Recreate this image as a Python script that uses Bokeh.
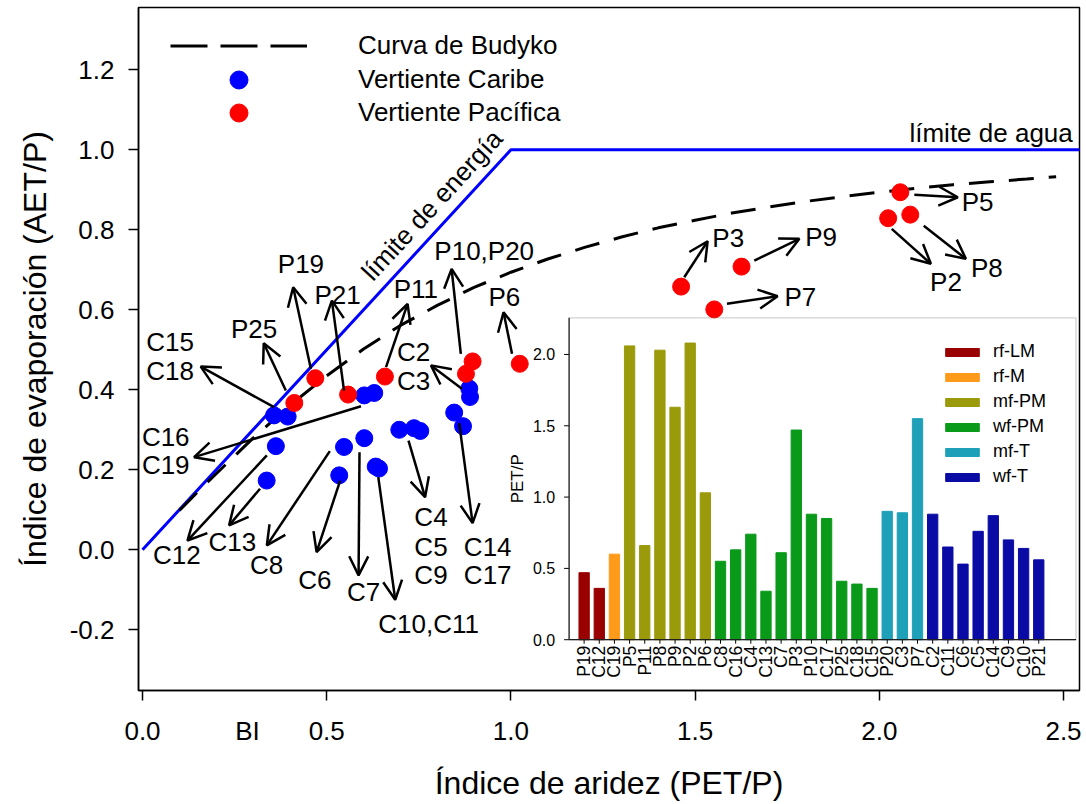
import math
from bokeh.plotting import figure
from bokeh.models import (ColumnDataSource, Range1d, FixedTicker, NumeralTickFormatter,
                          Arrow, OpenHead, Legend, LegendItem, BoxAnnotation, LinearAxis)
from bokeh.core.properties import value
from bokeh.embed import file_html
from bokeh.resources import INLINE

FONT = "Liberation Sans"
NAN = float("nan")

# ---------------- data: main scatter ----------------
caribe_names = ["C15", "C18", "C19", "C16", "C12", "C13", "C8", "C6", "C7",
                "C10", "C11", "C9", "C4", "C5", "C17", "C14", "C2", "C3"]
caribe_x = [0.357, 0.394, 0.602, 0.629, 0.362, 0.337, 0.547, 0.534, 0.602,
            0.633, 0.642, 0.697, 0.737, 0.754, 0.846, 0.870, 0.887, 0.889]
caribe_y = [0.336, 0.333, 0.386, 0.392, 0.259, 0.173, 0.257, 0.186, 0.279,
            0.208, 0.203, 0.300, 0.304, 0.297, 0.343, 0.309, 0.403, 0.382]

pacifica_names = ["P25", "P19", "P21", "P11", "P10", "P20", "P6", "P3", "P9",
                  "P7", "P5", "P8", "P2"]
pacifica_x = [0.412, 0.469, 0.558, 0.658, 0.878, 0.896, 1.024, 1.462, 1.626,
              1.552, 2.057, 2.024, 2.084]
pacifica_y = [0.367, 0.429, 0.388, 0.433, 0.440, 0.471, 0.465, 0.658, 0.708,
              0.601, 0.894, 0.829, 0.838]

# Budyko curve
budyko_x = [0.10, 0.15, 0.20, 0.30, 0.40, 0.50, 0.60, 0.70, 0.80, 0.90, 1.00,
            1.10, 1.20, 1.30, 1.40, 1.50, 1.60, 1.70, 1.80, 1.90, 2.00, 2.10,
            2.20, 2.30, 2.40, 2.48]
budyko_y = [0.098, 0.145, 0.190, 0.279, 0.361, 0.435, 0.502, 0.561, 0.611,
            0.656, 0.694, 0.727, 0.756, 0.782, 0.805, 0.824, 0.842, 0.857,
            0.871, 0.883, 0.894, 0.904, 0.913, 0.920, 0.927, 0.933]

# energy / water limits
limit_x = [0.0, 1.0, 2.6]
limit_y = [0.0, 1.0, 1.0]

# point labels
lab_text = ["P19", "P21", "P25", "P11", "P10,P20", "P6", "C2", "C3", "C15", "C18",
            "C16", "C19", "C12", "C13", "C8", "C6", "C7", "C10,C11", "C4", "C5",
            "C9", "C14", "C17", "P3", "P9", "P7", "P5", "P2", "P8"]
lab_x = [0.430, 0.5295, 0.303, 0.742, 0.9275, 0.982, 0.736, 0.736, 0.075, 0.075,
         0.063, 0.063, 0.093, 0.244, 0.337, 0.468, 0.600, 0.7765, 0.783, 0.783,
         0.783, 0.937, 0.937, 1.590, 1.842, 1.7855, 2.267, 2.181, 2.292]
lab_y = [0.715, 0.638, 0.5525, 0.6525, 0.748, 0.6315, 0.494, 0.423, 0.519, 0.448,
         0.283, 0.213, -0.014, 0.019, -0.039, -0.075, -0.106, -0.185, 0.0815, 0.008,
         -0.064, 0.008, -0.064, 0.780, 0.783, 0.6315, 0.869, 0.669, 0.705]

# arrows: from point group to label
arrow_x0 = [0.357, 0.389, 0.457, 0.547, 0.661, 0.864, 1.003, 0.867, 0.593, 0.3375,
            0.319, 0.5085, 0.5365, 0.589, 0.640, 0.722, 0.8596, 1.4705, 1.6606,
            1.5865, 2.095, 2.0337, 2.1206]
arrow_y0 = [0.3565, 0.398, 0.4525, 0.398, 0.4565, 0.490, 0.490, 0.4025, 0.359, 0.236,
            0.1525, 0.2465, 0.173, 0.244, 0.1815, 0.273, 0.3165, 0.6815, 0.723,
            0.615, 0.8875, 0.8025, 0.810]
arrow_x1 = [0.158, 0.329, 0.409, 0.514, 0.7195, 0.839, 0.980, 0.783, 0.140, 0.122,
            0.235, 0.3375, 0.4725, 0.5865, 0.686, 0.767, 0.896, 1.534, 1.783,
            1.724, 2.213, 2.140, 2.235]
arrow_y1 = [0.458, 0.5165, 0.6565, 0.623, 0.615, 0.7025, 0.594, 0.461, 0.2315, 0.023,
            0.061, 0.011, -0.006, -0.064, -0.125, 0.1315, 0.0665, 0.7715, 0.7775,
            0.634, 0.8815, 0.715, 0.7275]

x_ticks = [0.0, 0.5, 1.0, 1.5, 2.0, 2.5]
y_ticks = [-0.2, 0.0, 0.2, 0.4, 0.6, 0.8, 1.0, 1.2]
bi_tick = [0.285]
bi_label = ["BI"]

# ---------------- data: inset bar chart ----------------
bar_cats = ["P19", "C12", "C19", "P5", "P11", "P8", "P9", "P2", "P6", "C8", "C16",
            "C4", "C13", "C7", "P3", "P10", "C17", "P25", "C18", "C15", "P20", "C3",
            "P7", "C2", "C11", "C6", "C5", "C14", "C9", "C10", "P21"]
bar_vals = [0.47, 0.36, 0.60, 2.06, 0.66, 2.03, 1.63, 2.08, 1.03, 0.55, 0.63,
            0.74, 0.34, 0.61, 1.47, 0.88, 0.85, 0.41, 0.39, 0.36, 0.90, 0.89,
            1.55, 0.88, 0.65, 0.53, 0.76, 0.87, 0.70, 0.64, 0.56]
bar_groups = ["rf-LM", "rf-LM", "rf-M", "mf-PM", "mf-PM", "mf-PM", "mf-PM", "mf-PM",
              "mf-PM", "wf-PM", "wf-PM", "wf-PM", "wf-PM", "wf-PM", "wf-PM", "wf-PM",
              "wf-PM", "wf-PM", "wf-PM", "wf-PM", "mf-T", "mf-T", "mf-T", "wf-T",
              "wf-T", "wf-T", "wf-T", "wf-T", "wf-T", "wf-T", "wf-T"]
group_names = ["rf-LM", "rf-M", "mf-PM", "wf-PM", "mf-T", "wf-T"]
inset_ticks = [0.0, 0.5, 1.0, 1.5, 2.0]

# ---------------- styles ----------------
group_colors = {"rf-LM": "#990000", "rf-M": "#ff9a1a", "mf-PM": "#9a9a0a",
                "wf-PM": "#0a9a1a", "mf-T": "#1ea0b8", "wf-T": "#0a0aa5"}
BLUE = "#0000ff"
RED = "#ff0000"

p = figure(width=1086, height=804,
           x_range=Range1d(-0.0109, 2.5434), y_range=Range1d(-0.352, 1.356),
           output_backend="svg", toolbar_location=None,
           min_border_left=138, min_border_right=7, min_border_top=7,
           min_border_bottom=114)
p.xgrid.visible = False
p.ygrid.visible = False
p.outline_line_color = "black"
p.outline_line_width = 1.5
p.background_fill_color = "white"
p.border_fill_color = "white"

# x axis A: line + tick marks only (next to the frame)
xa = p.xaxis[0]
xa.ticker = FixedTicker(ticks=x_ticks)
xa.axis_line_color = "black"
xa.axis_line_width = 1.5
xa.major_tick_line_color = "black"
xa.major_tick_line_width = 1.5
xa.major_tick_out = 10
xa.major_tick_in = 0
xa.minor_tick_line_color = None
xa.major_label_text_font_size = "0px"
xa.major_label_standoff = 0
xa.major_label_overrides = {t: "" for t in x_ticks}

# x axis B: tick labels (incl. "BI") + title, below axis A
xb = LinearAxis(ticker=FixedTicker(ticks=x_ticks + bi_tick),
                formatter=NumeralTickFormatter(format="0.0"),
                major_label_overrides=dict(zip(bi_tick, bi_label)),
                axis_line_color=None, major_tick_line_color=None,
                minor_tick_line_color=None, major_tick_out=0, major_tick_in=0,
                major_label_standoff=15, major_label_text_font=FONT,
                major_label_text_font_size="26px", major_label_text_color="black",
                axis_label="Índice de aridez (PET/P)", axis_label_standoff=16,
                axis_label_text_font=FONT, axis_label_text_font_size="32px",
                axis_label_text_font_style="normal", axis_label_text_color="black")
p.add_layout(xb, "below")

ya = p.yaxis[0]
ya.ticker = FixedTicker(ticks=y_ticks)
ya.formatter = NumeralTickFormatter(format="0.0")
ya.axis_line_color = "black"
ya.axis_line_width = 1.5
ya.major_tick_line_color = "black"
ya.major_tick_line_width = 1.5
ya.major_tick_out = 10
ya.major_tick_in = 0
ya.minor_tick_line_color = None
ya.major_label_text_font = FONT
ya.major_label_text_font_size = "26px"
ya.major_label_text_color = "black"
ya.major_label_standoff = 14
ya.axis_label = "Índice de evaporación (AET/P)"
ya.axis_label_standoff = 14
ya.axis_label_text_font = FONT
ya.axis_label_text_font_size = "32px"
ya.axis_label_text_font_style = "normal"
ya.axis_label_text_color = "black"

# limits
p.line(limit_x, limit_y, line_color=BLUE, line_width=3)
p.text(x=[0.7855], y=[0.862], text=["límite de energía"], angle=math.atan2(400, 368.3),
       text_font=value(FONT), text_font_size=value("26px"), text_align="center",
       text_baseline="middle", text_color="black")
p.text(x=[2.3035], y=[1.041], text=["límite de agua"],
       text_font=value(FONT), text_font_size=value("26px"), text_align="center",
       text_baseline="middle", text_color="black")

# Budyko curve
r_bud = p.line(budyko_x, budyko_y, line_color="black", line_width=3, line_dash="25 15")
legend_budyko = p.line(x=[NAN, NAN], y=[NAN, NAN], line_color="black", line_width=3,
                       line_dash="37 13")

# arrows
asrc = ColumnDataSource(dict(x0=arrow_x0, y0=arrow_y0, x1=arrow_x1, y1=arrow_y1))
p.add_layout(Arrow(source=asrc, x_start="x0", y_start="y0", x_end="x1", y_end="y1",
                   line_color="black", line_width=2.5,
                   end=OpenHead(size=19, line_width=2.5, line_color="black")))

# points
r_car = p.scatter(caribe_x, caribe_y, size=17, fill_color=BLUE, line_color=BLUE)
r_pac = p.scatter(pacifica_x, pacifica_y, size=17, fill_color=RED, line_color=RED)

# labels
lsrc = ColumnDataSource(dict(x=lab_x, y=lab_y, t=lab_text))
p.text(x="x", y="y", text="t", source=lsrc, text_font=value(FONT),
       text_font_size=value("26px"), text_align="center", text_baseline="middle",
       text_color="black")

# main legend: one legend per row (row pitch 33 px, legend dot 18 px)
legend_rows = [("Curva de Budyko", legend_budyko, 622.5),
               ("Vertiente Caribe", r_car, 588.5),
               ("Vertiente Pacífica", r_pac, 555.5)]
for lab, rend, yoff in legend_rows:
    p.add_layout(Legend(items=[LegendItem(label=lab, renderers=[rend])],
                        location=(32, yoff), glyph_width=137, glyph_height=45,
                        label_standoff=51, padding=0, margin=0, border_line_alpha=0,
                        background_fill_alpha=0, label_text_font=FONT,
                        label_text_font_size="26px", label_text_color="black",
                        label_height=45))

# ---------------- inset ----------------
ix0, ix1 = -0.99, 32.46
iy0, iy1 = 0.0, 2.257
inset_x = Range1d(ix0, ix1)
inset_y = Range1d(iy0, iy1)
tx0, tx1, ty0, ty1 = 1.158, 2.534, -0.225, 0.58
sub = p.subplot(x_source=inset_x, y_source=inset_y,
                x_target=Range1d(tx0, tx1), y_target=Range1d(ty0, ty1))

p.add_layout(BoxAnnotation(left=tx0, right=tx1, bottom=ty0, top=ty1, fill_alpha=0,
                           line_color="#6a6a6a", line_width=1.3))

idx = list(range(len(bar_cats)))
bsrc = ColumnDataSource(dict(x=idx, top=bar_vals, cat=bar_cats, grp=bar_groups,
                             color=[group_colors[g] for g in bar_groups]))
r_bars = sub.vbar(x="x", top="top", width=0.68, bottom=0, source=bsrc,
                  fill_color="color", line_color="color")

# inset axes
sub.segment(x0=[ix0], y0=[0], x1=[ix1], y1=[0], line_color="black", line_width=1.2)
sub.segment(x0=[ix0], y0=[0], x1=[ix0], y1=[iy1], line_color="black", line_width=1.2)
sub.segment(x0=[ix0 - 0.33] * len(inset_ticks), y0=inset_ticks,
            x1=[ix0] * len(inset_ticks), y1=inset_ticks, line_color="black", line_width=1)
sub.segment(x0=idx, y0=[0] * len(idx), x1=idx, y1=[-0.028] * len(idx),
            line_color="black", line_width=1)
sub.text(x=[ix0] * len(inset_ticks), y=inset_ticks,
         text=["%.1f" % t for t in inset_ticks], x_offset=-14,
         text_font=value(FONT), text_font_size=value("16px"), text_align="right",
         text_baseline="middle", text_color="black")
sub.text(x="x", y=0, text="cat", source=bsrc, angle=math.pi / 2, y_offset=6,
         text_font=value(FONT), text_font_size=value("17.5px"), text_align="right",
         text_baseline="middle", text_color="black")
sub.text(x=[ix0], y=[(iy0 + iy1) / 2], text=["PET/P"], x_offset=-52, angle=math.pi / 2,
         text_font=value(FONT), text_font_size=value("17px"), text_align="center",
         text_baseline="middle", text_color="black")

first_idx = {g: bar_groups.index(g) for g in group_names}
legend2 = Legend(items=[LegendItem(label=g, renderers=[r_bars], index=first_idx[g])
                        for g in group_names],
                 location=(803, 203), glyph_width=42, glyph_height=10, spacing=4,
                 label_standoff=10, padding=0, margin=0, border_line_alpha=0,
                 background_fill_alpha=0, label_text_font=FONT,
                 label_text_font_size="18px", label_text_color="black",
                 label_height=10)
p.add_layout(legend2)

open("out.html", "w").write(file_html(p, INLINE))
